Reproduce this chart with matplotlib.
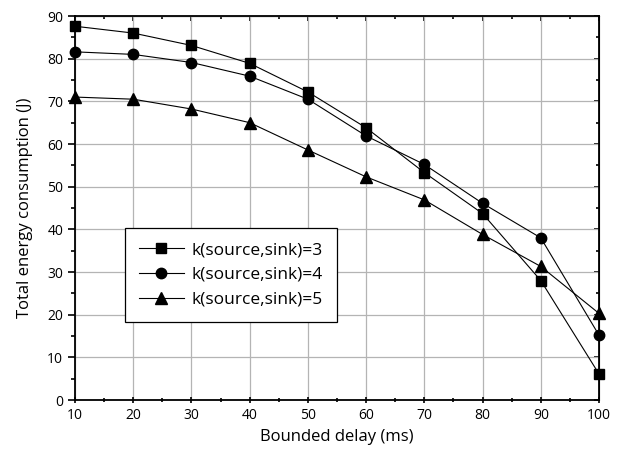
import numpy as np
import matplotlib.pyplot as plt
from matplotlib.ticker import MultipleLocator

delay = [10, 20, 30, 40, 50, 60, 70, 80, 90, 100]
k3 = [87.6, 86.0, 83.1, 78.9, 72.2, 63.8, 53.3, 43.7, 28.0, 6.1]
k4 = [81.6, 81.0, 79.1, 75.9, 70.5, 61.9, 55.2, 46.1, 38.0, 15.2]
k5 = [71.0, 70.5, 68.2, 65.0, 58.6, 52.3, 46.9, 38.8, 31.3, 20.3]
labels = ['k(source,sink)=3', 'k(source,sink)=4', 'k(source,sink)=5']

plt.rcParams['font.family'] = ['Open Sans', 'DejaVu Sans']

fig = plt.figure(figsize=(6.21, 4.53), dpi=100)
ax = fig.add_axes([75/621, 1-400/453, 524/621, 384/453])

ax.plot(delay, k3, '-s', color='black', lw=0.8, ms=6.5, label=labels[0], clip_on=False, zorder=3)
ax.plot(delay, k4, '-o', color='black', lw=0.8, ms=7.5, label=labels[1], clip_on=False, zorder=3)
ax.plot(delay, k5, '-^', color='black', lw=0.8, ms=8, label=labels[2], clip_on=False, zorder=3)

ax.set_xlim(10, 100)
ax.set_ylim(0, 90)
ax.xaxis.set_major_locator(MultipleLocator(10))
ax.xaxis.set_minor_locator(MultipleLocator(5))
ax.yaxis.set_major_locator(MultipleLocator(10))
ax.yaxis.set_minor_locator(MultipleLocator(5))
ax.grid(True, which='major', color='#b4b4b4', lw=0.9)
ax.set_axisbelow(True)
ax.tick_params(which='both', direction='out', width=1.2, labelsize=10, colors='black')
ax.tick_params(which='major', length=5)
ax.tick_params(which='minor', length=3)
ax.tick_params(axis='x', which='both', direction='inout')
for s in ax.spines.values():
    s.set_linewidth(1.3)

sec_x = ax.secondary_xaxis('top')
sec_x.tick_params(which='both', direction='in', width=1.2, labeltop=False)
sec_x.xaxis.set_major_locator(MultipleLocator(10))
sec_x.xaxis.set_minor_locator(MultipleLocator(5))
sec_y = ax.secondary_yaxis('right')
sec_y.tick_params(which='both', direction='in', width=1.2, labelright=False)
sec_y.yaxis.set_major_locator(MultipleLocator(10))
sec_y.yaxis.set_minor_locator(MultipleLocator(5))

ax.set_xlabel('Bounded delay (ms)', fontsize=12, labelpad=4)
ax.set_ylabel('Total energy consumption (J)', fontsize=12, labelpad=10)

leg = ax.legend(loc='upper left', bbox_to_anchor=(50/524, 172/384), fontsize=12.5,
                frameon=True, fancybox=False, edgecolor='black', framealpha=1,
                handlelength=2.6, handletextpad=0.45, labelspacing=0.5,
                borderpad=0.8, borderaxespad=0)
leg.get_frame().set_linewidth(0.9)

fig.savefig('out.png', dpi=100)
